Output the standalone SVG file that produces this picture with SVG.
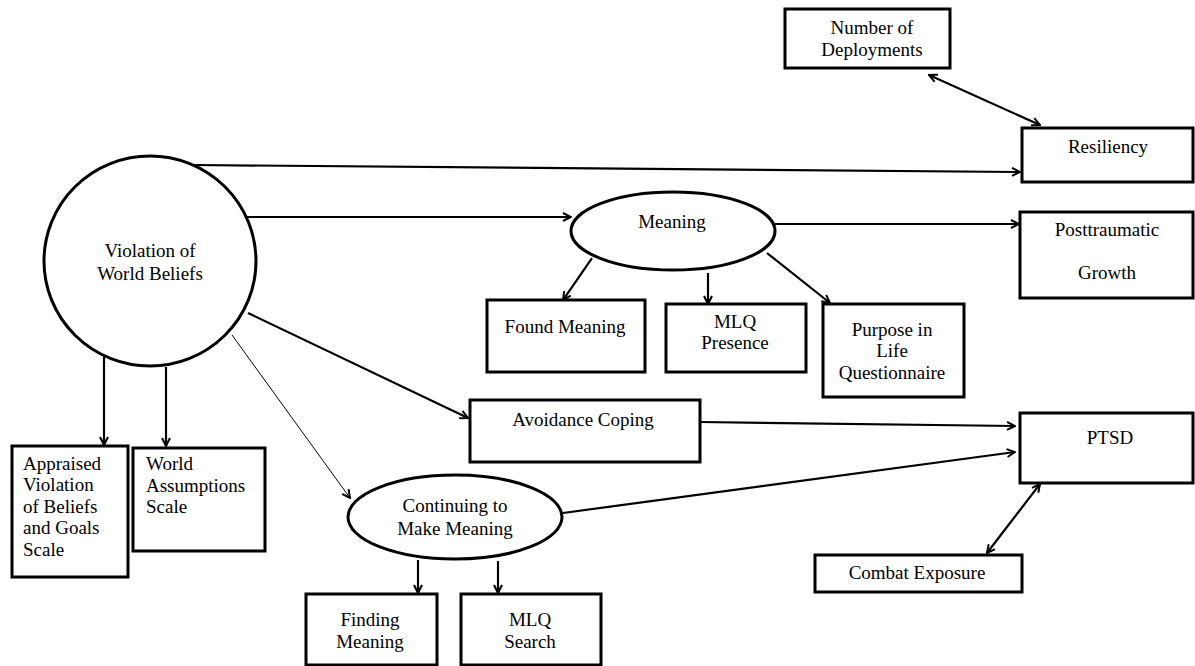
<svg xmlns="http://www.w3.org/2000/svg" width="1195" height="666" viewBox="0 0 1195 666">
  <style>
    .box { fill: #fff; stroke: #000; stroke-width: 3; }
    .oval { fill: #fff; stroke: #000; stroke-width: 3; }
    .lbl { font-family: "Liberation Serif", "Times New Roman", serif; font-size: 19px; fill: #000; }
    .mid { text-anchor: middle; }
    .edge { fill: none; stroke: #000; stroke-width: 2.2; }
    .thin { fill: none; stroke: #000; stroke-width: 1; }
  </style>
  <defs>
    <marker id="arrow" viewBox="0 0 10 10" refX="9" refY="5" markerWidth="10" markerHeight="10" markerUnits="userSpaceOnUse" orient="auto">
      <path d="M1,1 L9,5 L1,9" fill="none" stroke="#000" stroke-width="2"/>
    </marker>
    <marker id="arrowStart" viewBox="0 0 10 10" refX="1" refY="5" markerWidth="10" markerHeight="10" markerUnits="userSpaceOnUse" orient="auto">
      <path d="M9,1 L1,5 L9,9" fill="none" stroke="#000" stroke-width="2"/>
    </marker>
  </defs>

  <!-- connectors -->
  <g id="connectors">
    <path class="edge" d="M193,165 L1020,172" marker-end="url(#arrow)"/>
    <path class="edge" d="M247,217 L571,217" marker-end="url(#arrow)"/>
    <path class="edge" d="M775,224 L1019,224" marker-end="url(#arrow)"/>
    <path class="edge" d="M592,258 L563,300" marker-end="url(#arrow)"/>
    <path class="edge" d="M708,273 L708,304" marker-end="url(#arrow)"/>
    <path class="edge" d="M767,253 L830,303" marker-end="url(#arrow)"/>
    <path class="edge" d="M248,313 L468,418" marker-end="url(#arrow)"/>
    <path class="thin" d="M232,335 L350,498" marker-end="url(#arrow)"/>
    <path class="edge" d="M104,357 L104,445" marker-end="url(#arrow)"/>
    <path class="edge" d="M166,367 L166,446" marker-end="url(#arrow)"/>
    <path class="edge" d="M700,422 L1015,426" marker-end="url(#arrow)"/>
    <path class="edge" d="M563,513 L1015,452" marker-end="url(#arrow)"/>
    <path class="edge" d="M418,560 L418,593" marker-end="url(#arrow)"/>
    <path class="edge" d="M498,561 L498,593" marker-end="url(#arrow)"/>
    <path class="edge" d="M929,75 L1040,125" marker-start="url(#arrowStart)" marker-end="url(#arrow)"/>
    <path class="edge" d="M987,553 L1040,484" marker-start="url(#arrowStart)" marker-end="url(#arrow)"/>
  </g>

  <g id="violation">
    <ellipse class="oval" cx="150" cy="261" rx="106" ry="105"/>
    <text class="lbl mid" x="150" y="257">Violation of</text>
    <text class="lbl mid" x="150" y="280">World Beliefs</text>
  </g>

  <g id="deployments">
    <rect class="box" x="785" y="9" width="165" height="59"/>
    <text class="lbl mid" x="872" y="34">Number of</text>
    <text class="lbl mid" x="872" y="56">Deployments</text>
  </g>

  <g id="resiliency">
    <rect class="box" x="1022" y="128" width="171" height="54"/>
    <text class="lbl mid" x="1108" y="153">Resiliency</text>
  </g>

  <g id="meaning">
    <ellipse class="oval" cx="673" cy="231" rx="102" ry="39"/>
    <text class="lbl mid" x="672" y="228">Meaning</text>
  </g>

  <g id="growth">
    <rect class="box" x="1020" y="212" width="173" height="86"/>
    <text class="lbl mid" x="1107" y="236">Posttraumatic</text>
    <text class="lbl mid" x="1107" y="279">Growth</text>
  </g>

  <g id="found-meaning">
    <rect class="box" x="487" y="300" width="158" height="72"/>
    <text class="lbl mid" x="565" y="333">Found Meaning</text>
  </g>

  <g id="mlq-presence">
    <rect class="box" x="666" y="304" width="140" height="68"/>
    <text class="lbl mid" x="735" y="328">MLQ</text>
    <text class="lbl mid" x="735" y="349">Presence</text>
  </g>

  <g id="purpose">
    <rect class="box" x="823" y="304" width="141" height="93"/>
    <text class="lbl mid" x="892" y="336">Purpose in</text>
    <text class="lbl mid" x="892" y="357">Life</text>
    <text class="lbl mid" x="892" y="379">Questionnaire</text>
  </g>

  <g id="avoidance">
    <rect class="box" x="470" y="400" width="230" height="62"/>
    <text class="lbl mid" x="583" y="426">Avoidance Coping</text>
  </g>

  <g id="ptsd">
    <rect class="box" x="1020" y="413" width="173" height="70"/>
    <text class="lbl mid" x="1110" y="444">PTSD</text>
  </g>

  <g id="appraised">
    <rect class="box" x="12" y="446" width="116" height="131"/>
    <text class="lbl" x="23" y="470">Appraised</text>
    <text class="lbl" x="23" y="491">Violation</text>
    <text class="lbl" x="23" y="513">of Beliefs</text>
    <text class="lbl" x="23" y="534">and Goals</text>
    <text class="lbl" x="23" y="556">Scale</text>
  </g>

  <g id="world-assumptions">
    <rect class="box" x="133" y="448" width="132" height="103"/>
    <text class="lbl" x="146" y="470">World</text>
    <text class="lbl" x="146" y="492">Assumptions</text>
    <text class="lbl" x="146" y="513">Scale</text>
  </g>

  <g id="continuing">
    <ellipse class="oval" cx="455" cy="517" rx="107" ry="42"/>
    <text class="lbl mid" x="455" y="512">Continuing to</text>
    <text class="lbl mid" x="455" y="535">Make Meaning</text>
  </g>

  <g id="combat">
    <rect class="box" x="815" y="555" width="207" height="37"/>
    <text class="lbl mid" x="917" y="579">Combat Exposure</text>
  </g>

  <g id="finding-meaning">
    <rect class="box" x="306" y="594" width="131" height="71"/>
    <text class="lbl mid" x="370" y="626">Finding</text>
    <text class="lbl mid" x="370" y="648">Meaning</text>
  </g>

  <g id="mlq-search">
    <rect class="box" x="461" y="594" width="140" height="71"/>
    <text class="lbl mid" x="530" y="626">MLQ</text>
    <text class="lbl mid" x="530" y="648">Search</text>
  </g>
</svg>
